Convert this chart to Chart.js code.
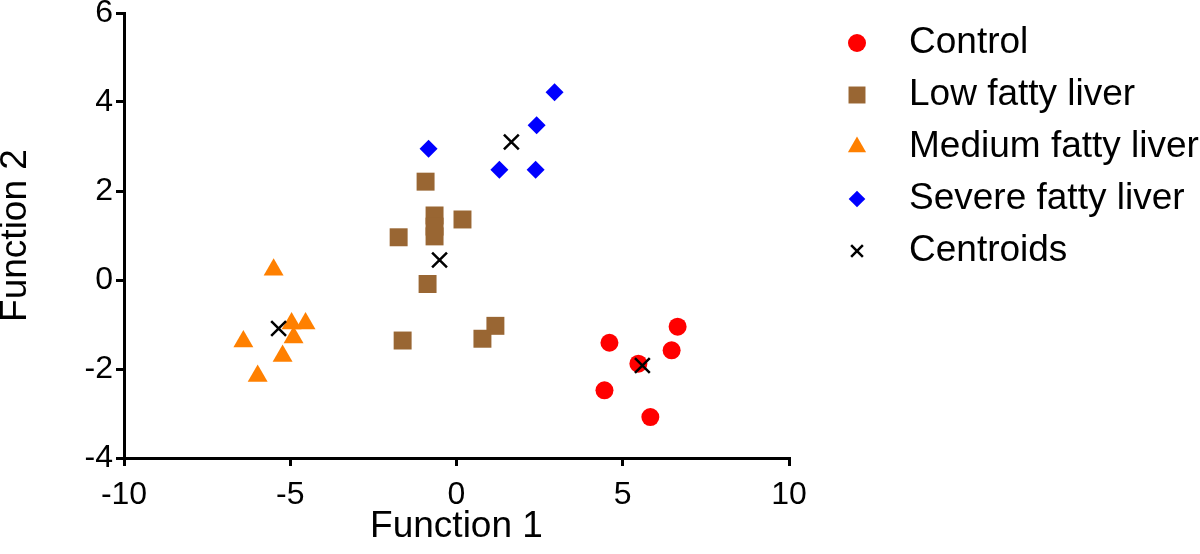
<!DOCTYPE html>
<html>
<head>
<meta charset="utf-8">
<script src="https://cdn.jsdelivr.net/npm/chart.js"></script>
<style>
  body { margin: 0; background: #fff; }
  canvas { display: block; }
</style>
</head>
<body>
<canvas id="chart" width="1200" height="554"></canvas>
<script>
// values
const controlX = [6.65, 4.60, 6.47, 5.47, 4.45, 5.83]
const controlY = [-1.05, -1.41, -1.58, -1.88, -2.48, -3.08]

const lowX = [-0.93, -0.66, -0.66, -0.66, 0.18, -1.74, -0.87, 1.17, 0.78, -1.62]
const lowY = [2.21, 1.45, 1.20, 0.98, 1.36, 0.96, -0.09, -1.03, -1.32, -1.36]

const mediumX = [-5.50, -4.96, -4.54, -4.90, -6.41, -5.23, -5.98]
const mediumY = [0.23, -0.98, -0.98, -1.29, -1.38, -1.71, -2.16]

const severeX = [2.95, 2.41, -0.84, 1.29, 2.38]
const severeY = [4.22, 3.48, 2.95, 2.48, 2.48]

const centroidX = [5.59, -0.51, -5.35, 1.65]
const centroidY = [-1.92, 0.45, -1.09, 3.10]

const xTicks = [-10, -5, 0, 5, 10]
const yTicks = [-4, -2, 0, 2, 4, 6]

const FONT = "'Liberation Sans', Arial, Helvetica, sans-serif"

function points(xs, ys) {
    return xs.map((x, i) => ({ x: x, y: ys[i] }))
}

// legend drawn by hand on the right, markers with Chart's own drawPoint
const sideLegend = {
    id: 'sideLegend',
    afterDraw(chart) {
        const ctx = chart.ctx
        ctx.save()
        chart.data.datasets.forEach((ds, i) => {
            const y = 43 + i * 52
            const x = 857
            ctx.fillStyle = ds.backgroundColor
            ctx.strokeStyle = ds.borderColor
            ctx.lineWidth = ds.borderWidth
            Chart.helpers.drawPoint(ctx, {
                pointStyle: ds.pointStyle,
                radius: ds.legendRadius,
                rotation: 0,
                borderWidth: ds.borderWidth
            }, x, y)
            ctx.fillStyle = '#000'
            ctx.font = '37px ' + FONT
            ctx.textBaseline = 'middle'
            ctx.textAlign = 'left'
            ctx.fillText(ds.label, 909, y)
        })
        ctx.restore()
    }
}

const chart = new Chart(document.getElementById('chart'), {
    type: 'scatter',
    data: {
        datasets: [
            {
                label: 'Control',
                data: points(controlX, controlY),
                pointStyle: 'circle',
                pointRadius: 9,
                legendRadius: 9,
                backgroundColor: '#ff0000',
                borderColor: '#ff0000',
                borderWidth: 0
            },
            {
                label: 'Low fatty liver',
                data: points(lowX, lowY),
                pointStyle: 'rect',
                pointRadius: 12.7,
                legendRadius: 12,
                backgroundColor: '#996633',
                borderColor: '#996633',
                borderWidth: 0
            },
            {
                label: 'Medium fatty liver',
                data: points(mediumX, mediumY),
                pointStyle: 'triangle',
                pointRadius: 11.5,
                legendRadius: 10.5,
                backgroundColor: '#ff8000',
                borderColor: '#ff8000',
                borderWidth: 0
            },
            {
                label: 'Severe fatty liver',
                data: points(severeX, severeY),
                pointStyle: 'rectRot',
                pointRadius: 9,
                legendRadius: 8.3,
                backgroundColor: '#0000ff',
                borderColor: '#0000ff',
                borderWidth: 0
            },
            {
                label: 'Centroids',
                data: points(centroidX, centroidY),
                pointStyle: 'crossRot',
                pointRadius: 10.5,
                legendRadius: 8.3,
                backgroundColor: '#000',
                borderColor: '#000',
                borderWidth: 2.5,
                order: -1
            }
        ]
    },
    options: {
        responsive: false,
        animation: false,
        layout: { padding: { top: 10, right: 411, bottom: 0, left: 0 } },
        plugins: {
            legend: { display: false },
            tooltip: { enabled: false }
        },
        scales: {
            x: {
                type: 'linear',
                min: -10,
                max: 10,
                afterFit(scale) { scale.height = 96 },
                afterBuildTicks(scale) { scale.ticks = xTicks.map(v => ({ value: v })) },
                ticks: {
                    color: '#000',
                    padding: 10,
                    font: { family: FONT, size: 32, lineHeight: 1.2 }
                },
                grid: {
                    drawOnChartArea: false,
                    drawTicks: true,
                    tickLength: 8,
                    color: '#000',
                    lineWidth: 3
                },
                border: { display: true, color: '#000', width: 3 },
                title: {
                    display: true,
                    text: 'Function 1',
                    color: '#000',
                    font: { family: FONT, size: 37, lineHeight: 1.2 },
                    padding: { top: 0, bottom: 5 }
                }
            },
            y: {
                type: 'linear',
                min: -4,
                max: 6,
                afterFit(scale) { scale.width = 124 },
                afterBuildTicks(scale) { scale.ticks = yTicks.map(v => ({ value: v })) },
                ticks: {
                    color: '#000',
                    padding: 3,
                    font: { family: FONT, size: 32, lineHeight: 0.6 }
                },
                grid: {
                    drawOnChartArea: false,
                    drawTicks: true,
                    tickLength: 8,
                    color: '#000',
                    lineWidth: 3
                },
                border: { display: true, color: '#000', width: 3 },
                title: {
                    display: true,
                    text: 'Function 2',
                    color: '#000',
                    font: { family: FONT, size: 37, lineHeight: 0.72 },
                    padding: { top: 2, bottom: 0 }
                }
            }
        }
    },
    plugins: [sideLegend]
})
</script>
</body>
</html>
